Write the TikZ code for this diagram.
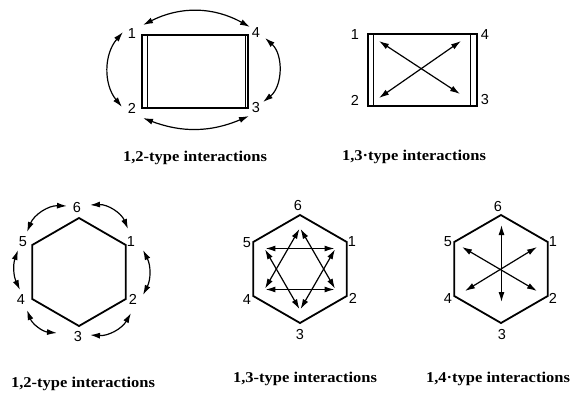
\documentclass[tikz,border=0pt]{standalone}
\usepackage{fontspec}
\usetikzlibrary{arrows.meta,calc}
\newfontfamily\digfont{Liberation Sans}
\newfontfamily\capfont[FakeStretch=1.1]{Liberation Serif}
\begin{document}
\begin{tikzpicture}[x=1pt,y=-1pt,
  outline/.style={line width=1.8pt, line join=miter},
  thin side/.style={line width=0.8pt},
  dbl/.style={line width=1.2pt, {Latex[length=10pt,width=6pt]}-{Latex[length=10pt,width=6pt]}},
  num/.style={font=\digfont\fontsize{14.5}{14.5}\selectfont, inner sep=0pt},
  captext/.style={font=\capfont\bfseries\fontsize{15}{15}\selectfont, inner sep=0pt}]
\useasboundingbox (0,0) rectangle (574,399);

% ---------- rectangle, 1,2-type ----------
\draw[outline] (142,35) rectangle (248,108);
\draw[thin side] (147,35) -- (147,108);
\draw[thin side] (245,35) -- (245,108);
\node[num] (r1n1) at (132,34) {1};
\node[num] (r1n2) at (132,108) {2};
\node[num] (r1n4) at (256,33) {4};
\node[num] (r1n3) at (256,108) {3};
\coordinate (r1t1) at (143,25);  \coordinate (r1t4) at (250,27);
\coordinate (r1r4) at (265,38);  \coordinate (r1r3) at (263,102);
\coordinate (r1b3) at (249,116); \coordinate (r1b2) at (143,118);
\coordinate (r1l2) at (122,107); \coordinate (r1l1) at (123,32);
\draw[dbl] (r1t1) to[bend left=28] (r1t4);
\draw[dbl] (r1r4) to[bend left=50] (r1r3);
\draw[dbl] (r1b3) to[bend left=22] (r1b2);
\draw[dbl] (r1l2) to[bend left=40] (r1l1);
\node[captext] (cap1) at (195,158) {1,2-type interactions};

% ---------- rectangle, 1,3-type ----------
\draw[outline] (368,34) rectangle (477,106);
\draw[thin side] (373,34) -- (373,106);
\draw[thin side] (470,34) -- (470,106);
\node[num] (r2n1) at (355,35) {1};
\node[num] (r2n2) at (355,100) {2};
\node[num] (r2n4) at (485,35) {4};
\node[num] (r2n3) at (485,100) {3};
\coordinate (r2a) at (379,41);  \coordinate (r2b) at (460,94);
\coordinate (r2c) at (379,98);  \coordinate (r2d) at (461,41);
\draw[dbl] (r2a) -- (r2b);
\draw[dbl] (r2c) -- (r2d);
\node[captext] (cap2) at (414,157) {1,3·type interactions};

% ---------- hexagons ----------
\coordinate (cA) at (79,272);
\coordinate (cB) at (300,269);
\coordinate (cC) at (501,269);
\foreach \h in {A,B,C}{
  \foreach \k/\a in {6/-90,1/-30,2/30,3/90,4/150,5/210}{
    \coordinate (\h\k) at ($(c\h)+(\a:54)$);
  }
  \draw[outline] (\h6) -- (\h1) -- (\h2) -- (\h3) -- (\h4) -- (\h5) -- cycle;
}

% hexagon A labels and arcs (1,2-type)
\node[num] (hAn6) at (77,208) {6};
\node[num] (hAn1) at (131,242) {1};
\node[num] (hAn2) at (133,299) {2};
\node[num] (hAn3) at (78,337) {3};
\node[num] (hAn4) at (21,300) {4};
\node[num] (hAn5) at (23,242) {5};
\coordinate (a61) at (90,205);  \coordinate (a16) at (128,229);
\coordinate (a12) at (143,250); \coordinate (a21) at (143,295);
\coordinate (a23) at (131,313); \coordinate (a32) at (90,335);
\coordinate (a34) at (57,333);  \coordinate (a43) at (27,310);
\coordinate (a45) at (20,290);  \coordinate (a54) at (18,250);
\coordinate (a56) at (27,232);  \coordinate (a65) at (67,206);
\draw[dbl] (a61) to[bend left=35] (a16);
\draw[dbl] (a12) to[bend left=27] (a21);
\draw[dbl] (a23) to[bend left=32] (a32);
\draw[dbl] (a34) to[bend left=32] (a43);
\draw[dbl] (a45) to[bend left=22] (a54);
\draw[dbl] (a56) to[bend left=35] (a65);
\node[captext] (cap3) at (83,384) {1,2-type interactions};

% hexagon B labels and star (1,3-type)
\node[num] (hBn6) at (298,206) {6};
\node[num] (hBn1) at (352,242) {1};
\node[num] (hBn2) at (353,298) {2};
\node[num] (hBn3) at (300,335) {3};
\node[num] (hBn4) at (247,300) {4};
\node[num] (hBn5) at (247,243) {5};
\foreach \k/\a in {6/-90,1/-30,2/30,3/90,4/150,5/210}{
  \coordinate (Bi\k) at ($(cB)+(\a:41)$);
}
\draw[dbl, shorten <=1pt, shorten >=1pt] (Bi5) -- (Bi1);
\draw[dbl, shorten <=1pt, shorten >=1pt] (Bi1) -- (Bi3);
\draw[dbl, shorten <=1pt, shorten >=1pt] (Bi3) -- (Bi5);
\draw[dbl, shorten <=1pt, shorten >=1pt] (Bi6) -- (Bi2);
\draw[dbl, shorten <=1pt, shorten >=1pt] (Bi2) -- (Bi4);
\draw[dbl, shorten <=1pt, shorten >=1pt] (Bi4) -- (Bi6);
\node[captext] (cap4) at (305,379) {1,3-type interactions};

% hexagon C labels and arrows (1,4-type)
\node[num] (hCn6) at (498,207) {6};
\node[num] (hCn1) at (553,242) {1};
\node[num] (hCn2) at (553,298) {2};
\node[num] (hCn3) at (502,335) {3};
\node[num] (hCn4) at (448,299) {4};
\node[num] (hCn5) at (448,242) {5};
\coordinate (Ct) at (501.5,225); \coordinate (Cb) at (501.5,302);
\coordinate (Cul) at (462,247); \coordinate (Clr) at (537,291);
\coordinate (Cll) at (465,291); \coordinate (Cur) at (537,247);
\draw[dbl] (Ct) -- (Cb);
\draw[dbl] (Cul) -- (Clr);
\draw[dbl] (Cll) -- (Cur);
\node[captext] (cap5) at (498,379) {1,4·type interactions};
\end{tikzpicture}
\end{document}
